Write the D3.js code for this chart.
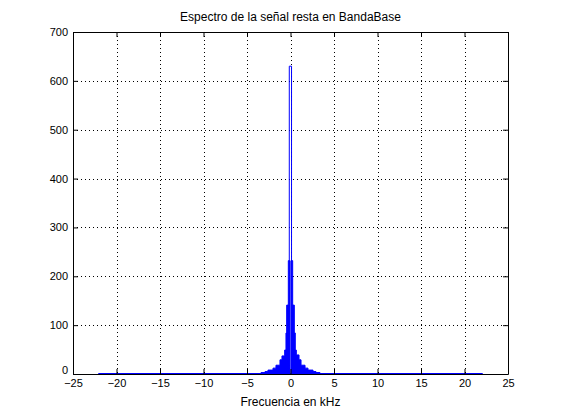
<!DOCTYPE html>
<html>
<head>
<meta charset="utf-8">
<script src="https://cdn.jsdelivr.net/npm/d3@7"></script>
<style>
  body { margin: 0; background: #fff; }
  svg { display: block; font-family: "Liberation Sans", Arial, sans-serif; }
</style>
</head>
<body>
<div class="view"></div>
<script>
// Tick values of both axes
const xTicks = [-25, -20, -15, -10, -5, 0, 5, 10, 15, 20, 25];
const yTicks = [0, 100, 200, 300, 400, 500, 600, 700];

// Spectrum envelope (kHz, magnitude), held as steps until the next frequency
const envFreq = [-22.05, -3.39, -2.93, -2.59, -2.01, -1.67, -1.21, -0.98, -0.67, -0.52, -0.44, -0.25, -0.06,
                 0.06, 0.25, 0.44, 0.55, 0.67, 0.98, 1.21, 1.67, 2.01, 2.59, 2.93, 3.39, 22.05];
const envMag  = [1, 3, 5, 8, 12, 18, 29, 37, 49, 84, 141, 232, 1,
                 232, 141, 84, 49, 39, 29, 18, 12, 8, 5, 3, 1, 1];

// Main peak outline around DC
const peakFreq = [-0.14, -0.14, 0.12, 0.12];
const peakMag  = [232, 630, 630, 232];

const titleText = "Espectro de la señal resta en BandaBase";
const xLabelText = "Frecuencia en kHz";

const W = 561, H = 420;
const margin = {top: 32, right: 53, bottom: 46, left: 73};
const width = W - margin.left - margin.right;
const height = H - margin.top - margin.bottom;

const svg = d3.select(".view").append("svg")
    .attr("width", W)
    .attr("height", H);

const g = svg.append("g")
    .attr("transform", "translate(" + margin.left + "," + margin.top + ")");

const x = d3.scaleLinear().domain([-25, 25]).range([0, width]);
const y = d3.scaleLinear().domain([0, 700]).range([height, 0]);

// dotted grid
g.append("g").selectAll("line")
    .data(xTicks.slice(1, -1))
    .enter().append("line")
    .attr("x1", d => Math.round(x(d)) + 0.5).attr("x2", d => Math.round(x(d)) + 0.5)
    .attr("y1", 0).attr("y2", height)
    .attr("stroke", "#000").attr("stroke-dasharray", "1,3");
g.append("g").selectAll("line")
    .data(yTicks.slice(1, -1))
    .enter().append("line")
    .attr("y1", d => Math.round(y(d)) + 0.5).attr("y2", d => Math.round(y(d)) + 0.5)
    .attr("x1", 0).attr("x2", width)
    .attr("stroke", "#000").attr("stroke-dasharray", "1,3");

// spectrum
const pts = envFreq.map((f, i) => [f, envMag[i]]);
const area = d3.area()
    .curve(d3.curveStepAfter)
    .x(d => x(d[0]))
    .y0(y(0))
    .y1(d => y(d[1]));
g.append("path")
    .datum(pts)
    .attr("d", area)
    .attr("fill", "#0000ff")
    .attr("stroke", "#0000ff")
    .attr("stroke-width", 1);

const line = d3.line().x(d => x(d[0])).y(d => y(d[1]));
g.append("path")
    .datum(peakFreq.map((f, i) => [f, peakMag[i]]))
    .attr("d", line)
    .attr("fill", "none")
    .attr("stroke", "#0000ff")
    .attr("stroke-width", 1);

// axes box with inward ticks
const xAxisB = d3.axisBottom(x).tickValues(xTicks).tickSizeInner(-5).tickSizeOuter(0).tickPadding(5);
const xAxisT = d3.axisTop(x).tickValues(xTicks).tickSizeInner(-5).tickSizeOuter(0).tickFormat("");
const yAxisL = d3.axisLeft(y).tickValues(yTicks).tickSizeInner(-5).tickSizeOuter(0).tickPadding(5);
const yAxisR = d3.axisRight(y).tickValues(yTicks).tickSizeInner(-5).tickSizeOuter(0).tickFormat("");

g.append("g").attr("transform", "translate(0," + height + ")").call(xAxisB);
g.append("g").call(xAxisT);
let yLeft = g.append("g").call(yAxisL);
g.append("g").attr("transform", "translate(" + width + ",0)").call(yAxisR);

g.selectAll(".domain, .tick line").attr("stroke", "#000");
g.selectAll(".tick text").attr("fill", "#000").attr("font-size", 11)
    .attr("font-family", "Liberation Sans, Arial, sans-serif");

// the "0" label sits a bit higher, like in the original, so it clears "-25"
yLeft.selectAll(".tick text").filter(d => d === 0).attr("dy", "-0.05em");

// labels
svg.append("text")
    .attr("x", margin.left + width / 2).attr("y", 21)
    .attr("text-anchor", "middle").attr("font-size", 12)
    .text(titleText);
svg.append("text")
    .attr("x", margin.left + width / 2).attr("y", 406)
    .attr("text-anchor", "middle").attr("font-size", 12)
    .text(xLabelText);
</script>
</body>
</html>
